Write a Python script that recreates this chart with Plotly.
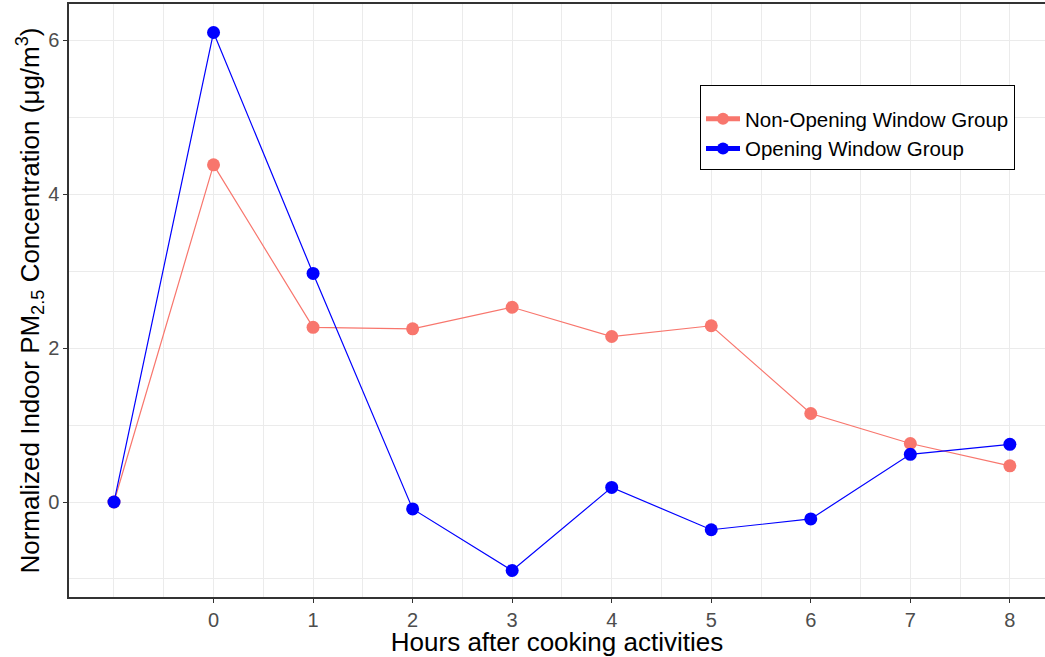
import plotly.graph_objects as go

hours = [-1, 0, 1, 2, 3, 4, 5, 6, 7, 8]
non_opening = [0.0, 4.38, 2.27, 2.25, 2.53, 2.15, 2.29, 1.15, 0.76, 0.47]
opening = [0.0, 6.10, 2.97, -0.09, -0.89, 0.19, -0.36, -0.22, 0.62, 0.75]
x_ticks = [0, 1, 2, 3, 4, 5, 6, 7, 8]
y_ticks = [0, 2, 4, 6]

W, H = 1045, 657
L, R, T, B = 69, 0, 4, 60

fig = go.Figure()
fig.add_trace(go.Scatter(x=hours, y=non_opening, mode="lines+markers",
                         name="Non-Opening Window Group",
                         line=dict(color="#F8766D", width=1.2),
                         marker=dict(color="#F8766D", size=13)))
fig.add_trace(go.Scatter(x=hours, y=opening, mode="lines+markers",
                         name="Opening Window Group",
                         line=dict(color="#0000FF", width=1.2),
                         marker=dict(color="#0000FF", size=13)))

grid = "#EBEBEB"
fig.update_layout(
    width=W, height=H,
    margin=dict(l=L, r=R, t=T, b=B),
    paper_bgcolor="white", plot_bgcolor="white",
    font=dict(family="Arial, Liberation Sans, sans-serif", color="black"),
    showlegend=True,
    legend=dict(x=(700 - L) / (W - L - R), y=(597 - 85) / (H - T - B),
                xanchor="left", yanchor="top",
                bordercolor="black", borderwidth=1, bgcolor="white",
                font=dict(size=20.5, color="black"),
                title=dict(text=" ", font=dict(size=10)),
                tracegroupgap=0, itemsizing="constant", itemwidth=34),
    xaxis=dict(
        range=[-1.452, 8.353],
        tickmode="array", tickvals=x_ticks, ticktext=[str(v) for v in x_ticks],
        ticks="outside", ticklen=4, tickcolor="#333333", tickwidth=1,
        tickfont=dict(size=20, color="#4D4D4D"),
        showgrid=True, gridcolor=grid, gridwidth=1.2,
        minor=dict(tickmode="array",
                   tickvals=[-1, -0.5, 0.5, 1.5, 2.5, 3.5, 4.5, 5.5, 6.5, 7.5],
                   showgrid=True, gridcolor=grid, gridwidth=1, ticks=""),
        showline=True, linecolor="#333333", linewidth=1.5, mirror=True,
        zeroline=False,
        title=dict(text="Hours after cooking activities",
                   font=dict(size=26, color="black"), standoff=0),
    ),
    yaxis=dict(
        range=[-1.234, 6.47],
        tickmode="array", tickvals=y_ticks, ticktext=[str(v) for v in y_ticks],
        ticks="outside", ticklen=4, tickcolor="#333333", tickwidth=1,
        tickfont=dict(size=20, color="#4D4D4D"),
        showgrid=True, gridcolor=grid, gridwidth=1.2,
        minor=dict(tickmode="array", tickvals=[-1, 1, 3, 5],
                   showgrid=True, gridcolor=grid, gridwidth=1, ticks=""),
        showline=True, linecolor="#333333", linewidth=1.5, mirror=False,
        zeroline=False,
        title=dict(text="Normalized Indoor PM<sub>2.5</sub> Concentration (μg/m<sup>3</sup>)",
                   font=dict(size=26, color="black"), standoff=0),
    ),
)

fig.write_html("out.html",
               config={"displayModeBar": False},
               post_script="document.body.style.margin='0';document.body.style.overflow='hidden';")
